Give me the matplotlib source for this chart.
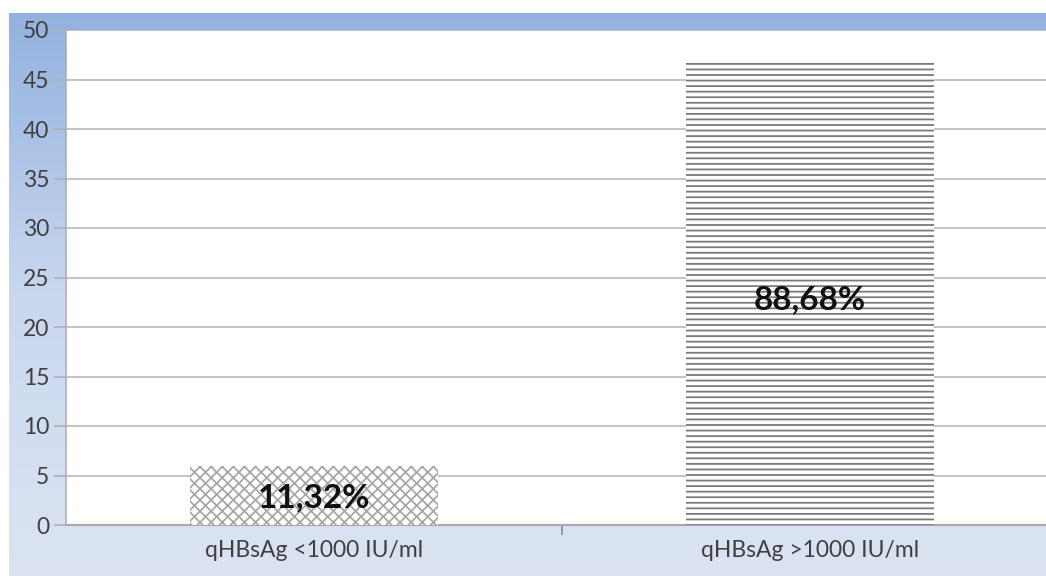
import matplotlib.pyplot as plt
import numpy as np
from matplotlib.colors import LinearSegmentedColormap

plt.rcParams['font.family'] = ['Lato', 'DejaVu Sans']
plt.rcParams['hatch.linewidth'] = 1.3

kategorije = ["qHBsAg <1000 IU/ml", "qHBsAg >1000 IU/ml"]
vrijednosti = [6, 47]
postoci = ["11,32%", "88,68%"]
uzorci = ["xxx", "---"]
boje_uzorka = ["#a8a8a8", "#7a7a7a"]
pomaci_teksta = [-0.3, -0.8]

W, H = 1046, 576
fig = plt.figure(figsize=(W / 100, H / 100), dpi=100)

# pozadina s gradijentom
pozadina = fig.add_axes([9 / W, 0, 1 - 9 / W, 1 - 13 / H])
pozadina.set_axis_off()
grad = LinearSegmentedColormap.from_list("g", ["#93b1df", "#c9d7ef", "#dce4f3"])
pozadina.imshow(np.linspace(0, 1, 256).reshape(-1, 1), aspect="auto", cmap=grad,
                extent=[0, 1, 0, 1])

ax = fig.add_axes([66 / W, (H - 525) / H, 992 / W, 495 / H])
ax.set_facecolor("white")
x = np.arange(len(kategorije))
for i in range(len(kategorije)):
    ax.bar(x[i], vrijednosti[i], width=0.5, color="white", edgecolor=boje_uzorka[i],
           hatch=uzorci[i], linewidth=0, zorder=3)
    ax.text(x[i], vrijednosti[i] / 2 + pomaci_teksta[i], postoci[i],
            ha="center", va="center", fontsize=24, fontweight="bold", color="#111111", zorder=4)

ax.set_xlim(-0.5, 1.5)
ax.set_ylim(0, 50)
ax.set_yticks(np.arange(0, 51, 5))
ax.yaxis.grid(True, color="#c4c4c4", linewidth=1.5)
ax.set_axisbelow(True)
ax.set_xticks(x)
ax.set_xticklabels(kategorije)
ax.set_xticks([0.5], minor=True)
ax.tick_params(axis="x", which="major", length=0, pad=11, labelsize=16.5, colors="#404040")
ax.tick_params(axis="x", which="minor", length=7, color="#8a8a8a", width=1.2)
ax.tick_params(axis="y", length=9, color="#b0b0b0", width=1.2, labelsize=16.5,
               colors="#404040", pad=3)
for s in ["top", "right"]:
    ax.spines[s].set_visible(False)
ax.spines["left"].set_color("#b0b0b0")
ax.spines["bottom"].set_color("#a8a8a8")
ax.spines["left"].set_linewidth(1.2)
ax.spines["bottom"].set_linewidth(1.5)

fig.savefig("out.png", dpi=100)
